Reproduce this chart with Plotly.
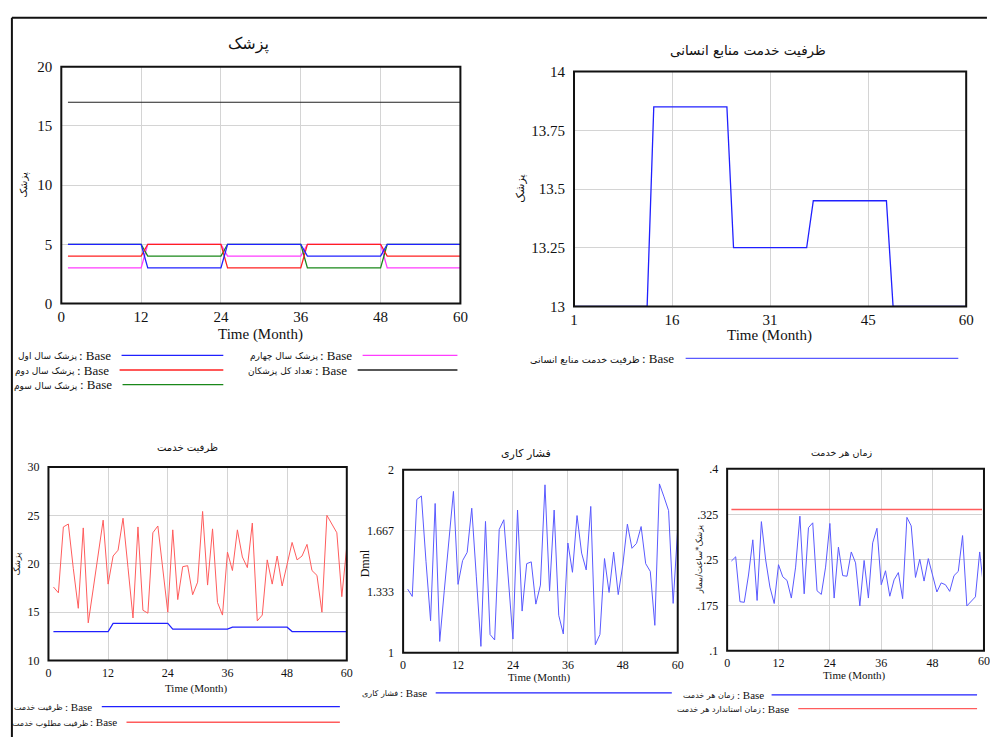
import plotly.graph_objects as go

W, H = 990, 742


def px(x):
    return x / W


def py(y):
    return 1 - y / H


# ---------------- data ----------------
months = list(range(1, 61))

# Chart 1: physicians by year (piecewise-linear breakpoints)
phase_months = [1, 12, 13, 24, 25, 36, 37, 48, 49, 60]
doc_year1 = [5, 5, 3, 3, 5, 5, 4, 4, 5, 5]
doc_year2 = [4, 4, 5, 5, 3, 3, 5, 5, 4, 4]
doc_year3 = [5, 5, 4, 4, 5, 5, 3, 3, 5, 5]
doc_year4 = [3, 3, 5, 5, 4, 4, 5, 5, 3, 3]
total_months = [1, 60]
total_doctors = [17, 17]

# Chart 2 / 3: service capacity (breakpoints)
service_capacity = [13, 13, 13.85, 13.85, 13.25, 13.25, 13.45, 13.45, 13, 13]

# Chart 3: desired service capacity
desired_capacity = [
    17.6, 17.0, 23.8, 24.1, 19.5, 15.4, 23.7, 13.9, 17.4, 21.2,
    24.5, 17.9, 20.8, 21.4, 24.7, 19.6, 14.4, 23.8, 15.2, 14.9,
    23.2, 23.9, 19.5, 15.0, 23.5, 16.3, 19.7, 19.8, 16.8, 18.1,
    25.4, 17.8, 23.6, 16.0, 14.7, 21.2, 19.3, 23.5, 20.7, 19.6,
    24.2, 14.1, 14.7, 20.4, 17.9, 20.8, 17.7, 19.9, 22.2, 20.4,
    20.8, 22.0, 19.3, 18.8, 15.0, 25.0, 24.1, 23.2, 16.6, 21.8,
]

# Chart 4: work pressure
work_pressure = [
    1.348, 1.308, 1.838, 1.857, 1.50, 1.175, 1.816, 1.062, 1.34, 1.63,
    1.882, 1.374, 1.504, 1.549, 1.79, 1.415, 1.035, 1.718, 1.10, 1.07,
    1.674, 1.727, 1.41, 1.075, 1.78, 1.228, 1.487, 1.497, 1.266, 1.37,
    1.918, 1.338, 1.78, 1.205, 1.103, 1.60, 1.44, 1.75, 1.545, 1.453,
    1.80, 1.044, 1.10, 1.515, 1.33, 1.55, 1.318, 1.48, 1.703, 1.571,
    1.598, 1.69, 1.487, 1.445, 1.15, 1.923, 1.852, 1.777, 1.27, 1.68,
]

# Chart 5: time per service and standard time
time_per_service = [
    0.248, 0.255, 0.181, 0.180, 0.225, 0.283, 0.183, 0.313, 0.250, 0.205,
    0.178, 0.242, 0.222, 0.216, 0.187, 0.238, 0.322, 0.194, 0.303, 0.311,
    0.199, 0.193, 0.238, 0.310, 0.187, 0.271, 0.224, 0.223, 0.263, 0.245,
    0.174, 0.249, 0.187, 0.278, 0.302, 0.209, 0.232, 0.190, 0.217, 0.229,
    0.186, 0.320, 0.306, 0.221, 0.251, 0.215, 0.252, 0.225, 0.197, 0.212,
    0.209, 0.198, 0.224, 0.231, 0.290, 0.174, 0.181, 0.189, 0.263, 0.198,
]
standard_time = [0.333, 0.333]

# tick labels
ticks_month = [0, 12, 24, 36, 48, 60]
c1_yticks = [0, 5, 10, 15, 20]
c2_xticks = [1, 15.75, 30.5, 45.25, 60]
c2_xtext = ["1", "16", "31", "45", "60"]
c2_yticks = [13, 13.25, 13.5, 13.75, 14]
c2_ytext = ["13", "13.25", "13.5", "13.75", "14"]
c3_yticks = [10, 15, 20, 25, 30]
c4_yticks = [1, 1.333, 1.667, 2]
c4_ytext = ["1", "1.333", "1.667", "2"]
c5_yticks = [0.1, 0.175, 0.25, 0.325, 0.4]
c5_ytext = [".1", ".175", ".25", ".325", ".4"]

FONT = "Liberation Serif, DejaVu Sans, serif"
AR = "DejaVu Sans, sans-serif"
GRID = "#d4d4d4"
BLUE = "#2020ff"
RED = "#ff2020"
GREEN = "#1a881a"
MAGENTA = "#ff3cff"
LBLUE = "#5a5aff"
LRED = "#ff5c5c"

fig = go.Figure()

# chart 1 traces (drawn so that first series is on top)
fig.add_trace(go.Scatter(x=total_months, y=total_doctors, mode="lines",
                         line=dict(color="#202020", width=1.2), xaxis="x", yaxis="y"))
fig.add_trace(go.Scatter(x=phase_months, y=doc_year4, mode="lines",
                         line=dict(color=MAGENTA, width=1.3), xaxis="x", yaxis="y"))
fig.add_trace(go.Scatter(x=phase_months, y=doc_year3, mode="lines",
                         line=dict(color=GREEN, width=1.3), xaxis="x", yaxis="y"))
fig.add_trace(go.Scatter(x=phase_months, y=doc_year2, mode="lines",
                         line=dict(color=RED, width=1.3), xaxis="x", yaxis="y"))
fig.add_trace(go.Scatter(x=phase_months, y=doc_year1, mode="lines",
                         line=dict(color=BLUE, width=1.3), xaxis="x", yaxis="y"))

# chart 2
fig.add_trace(go.Scatter(x=phase_months, y=service_capacity, mode="lines",
                         line=dict(color=BLUE, width=1.3), xaxis="x2", yaxis="y2"))

# chart 3
fig.add_trace(go.Scatter(x=phase_months, y=service_capacity, mode="lines",
                         line=dict(color=BLUE, width=1.2), xaxis="x3", yaxis="y3"))
fig.add_trace(go.Scatter(x=months, y=desired_capacity, mode="lines",
                         line=dict(color=LRED, width=1), xaxis="x3", yaxis="y3"))

# chart 4
fig.add_trace(go.Scatter(x=months, y=work_pressure, mode="lines",
                         line=dict(color=LBLUE, width=1), xaxis="x4", yaxis="y4"))

# chart 5
fig.add_trace(go.Scatter(x=months, y=time_per_service, mode="lines",
                         line=dict(color=LBLUE, width=1), xaxis="x5", yaxis="y5"))
fig.add_trace(go.Scatter(x=total_months, y=standard_time, mode="lines",
                         line=dict(color=LRED, width=1.6), xaxis="x5", yaxis="y5"))

# plot areas in pixels: (left, right, top, bottom)
areas = {
    1: (58, 462, 60, 302),
    2: (577, 974, 65, 305),
    3: (45, 347, 469, 667),
    4: (404, 682, 472, 659),
    5: (732, 992, 471, 657),
}


def xax(n, rng, tv, tt, fs):
    l, r, t, b = areas[n]
    return dict(domain=[px(l), min(px(r), 1.0)], range=rng, tickvals=tv, ticktext=tt,
                showgrid=True, gridcolor=GRID, gridwidth=1, zeroline=False,
                showline=False, ticks="", ticklabelstandoff=3,
                tickfont=dict(family=FONT, size=fs, color="#111"),
                anchor="y" if n == 1 else "y%d" % n, fixedrange=True)


def yax(n, rng, tv, tt, fs):
    l, r, t, b = areas[n]
    return dict(domain=[py(b), py(t)], range=rng, tickvals=tv, ticktext=tt,
                showgrid=True, gridcolor=GRID, gridwidth=1, zeroline=False,
                showline=False, ticks="", ticklabelstandoff=8,
                tickfont=dict(family=FONT, size=fs, color="#111"),
                anchor="x" if n == 1 else "x%d" % n, fixedrange=True)


x5_max = 60 * (990 - 732) / (992 - 732)

layout = dict(
    width=W, height=H,
    margin=dict(l=0, r=0, t=0, b=0),
    paper_bgcolor="white", plot_bgcolor="white",
    showlegend=False,
    xaxis=xax(1, [0, 60], ticks_month, [str(v) for v in ticks_month], 15),
    yaxis=yax(1, [0, 20], c1_yticks, [str(v) for v in c1_yticks], 15),
    xaxis2=xax(2, [1, 60], c2_xticks, c2_xtext, 15),
    yaxis2=yax(2, [13, 14], c2_yticks, c2_ytext, 15),
    xaxis3=xax(3, [0, 60], ticks_month, [str(v) for v in ticks_month], 12),
    yaxis3=yax(3, [10, 30], c3_yticks, [str(v) for v in c3_yticks], 12),
    xaxis4=xax(4, [0, 60], ticks_month, [str(v) for v in ticks_month], 12),
    yaxis4=yax(4, [1, 2], c4_yticks, c4_ytext, 12),
    xaxis5=xax(5, [0, x5_max], ticks_month[:-1], [str(v) for v in ticks_month[:-1]], 12),
    yaxis5=yax(5, [0.1, 0.4], c5_yticks, c5_ytext, 12),
)
fig.update_layout(**layout)

shapes = []
# outer frame of the screenshot
shapes.append(dict(type="line", xref="paper", yref="paper", x0=px(8), x1=px(8), y0=py(10), y1=py(745),
                   line=dict(color="#111", width=2)))
shapes.append(dict(type="line", xref="paper", yref="paper", x0=px(8), x1=px(995), y0=py(10), y1=py(10),
                   line=dict(color="#111", width=2)))
for n, (l, r, t, b) in areas.items():
    shapes.append(dict(type="rect", xref="paper", yref="paper", x0=px(l), x1=px(r), y0=py(b), y1=py(t),
                       line=dict(color="#111", width=2), layer="above"))

annotations = []


def text(x, y, s, size, anchor="center", angle=0, family=FONT, color="#111"):
    annotations.append(dict(x=px(x), y=py(y), xref="paper", yref="paper", text=s, showarrow=False,
                            xanchor=anchor, yanchor="middle", textangle=angle,
                            font=dict(family=family, size=size, color=color)))


# titles
text(247, 37, "پزشک", 16, family=AR)
text(753, 43, "ظرفیت خدمت منابع انسانی", 13.5, family=AR)
text(186, 449, "ظرفیت خدمت", 10, family=AR)
text(528, 455, "فشار کاری", 11, family=AR)
text(848, 454, "زمان هر خدمت", 9.5, family=AR)

# x titles
text(260, 334, "Time (Month)", 15)
text(775, 335, "Time (Month)", 15)
text(195, 696, "Time (Month)", 11)
text(542, 684, "Time (Month)", 11)
text(861, 682, "Time (Month)", 11)

# y titles
text(20, 181, "پزشک", 10, angle=-90, family=AR)
text(522, 185, "پزشک", 11, angle=-90, family=AR)
text(13, 568, "پزشک", 9, angle=-90, family=AR)
text(365, 568, "Dmnl", 12, angle=-90)
text(703, 563, "پزشک*ساعت/بیمار", 8.5, angle=-90, family=AR)

# cut-off tick label of chart 5 (only its first digit fits in the picture)
text(984, 667, "60", 12, anchor="left")

# legends: (text end x, y, label, line x0, line x1, color, base font size, persian font size)
legend_rows = [
    (110, 355, "پزشک سال اول", 119, 222, BLUE, 13, 9),
    (108, 370, "پزشک سال دوم", 117, 222, RED, 13, 9),
    (111, 385, "پزشک سال سوم", 120, 222, GREEN, 13, 9),
    (354, 355, "پزشک سال چهارم", 363, 459, MAGENTA, 13, 9),
    (349, 370, "تعداد کل پزشکان", 358, 459, "#202020", 13, 9),
    (680, 358, "ظرفیت خدمت منابع انسانی", 690, 966, LBLUE, 13, 9.5),
    (91, 714, "ظرفیت خدمت", 99, 340, BLUE, 11, 8),
    (116, 730, "ظرفیت مطلوب خدمت", 124, 340, LRED, 11, 8),
    (430, 700, "فشار کاری", 437, 676, BLUE, 11, 8),
    (771, 702, "زمان هر خدمت", 777, 985, BLUE, 11, 8),
    (797, 716, "زمان استاندارد هر خدمت", 804, 985, LRED, 11, 8),
]
for xe, y, s, l0, l1, col, fs, fa in legend_rows:
    text(xe, y, ": Base", fs, anchor="right")
    base_w = fs * 2.45
    text(xe - base_w - 2, y + 1, s, fa, anchor="right", family=AR)
    shapes.append(dict(type="line", xref="paper", yref="paper", x0=px(l0), x1=px(l1), y0=py(y), y1=py(y),
                       line=dict(color=col, width=1.3)))

fig.update_layout(shapes=shapes, annotations=annotations)
fig.write_html("out.html",
               config={"displayModeBar": False},
               post_script="document.body.style.margin='0';document.body.style.overflow='hidden';")
